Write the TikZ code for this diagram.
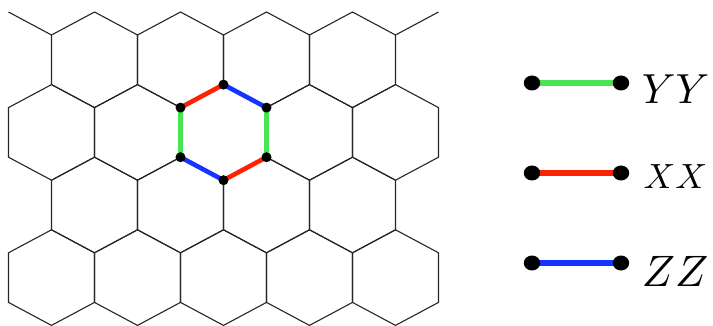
\documentclass[tikz,border=0pt]{standalone}
\usetikzlibrary{shapes.geometric}
\definecolor{kgreen}{RGB}{72,228,82}
\definecolor{kred}{RGB}{255,34,0}
\definecolor{kblue}{RGB}{22,52,255}
\tikzset{
  lat/.style={line width=1.1pt, draw=black!85, line join=miter},
  bond/.style={line width=4.6pt},
  lbond/.style={line width=6pt},
  site/.style={circle, inner sep=0pt, minimum size=10pt},
  lbl/.style={anchor=base west, inner sep=0pt}
}
\begin{document}
\begin{tikzpicture}[x=1pt,y=-1pt]
\useasboundingbox (0,0) rectangle (713,326);
% honeycomb lattice
\foreach \ty/\ks in {12/{2,4,6,8}, 84.6/{1,3,5,7,9}, 157.2/{2,4,6,8}, 229.8/{1,3,5,7,9}} {
  \foreach \k in \ks {
    \draw[lat] ({8.5+43*\k},\ty) -- ++(43,23) -- ++(0,49.6) -- ++(-43,23)
      -- ++(-43,-23) -- ++(0,-49.6) -- cycle;
  }
}
\coordinate (pl0) at (8.5,12);
\coordinate (pl1) at (51.5,35);
\coordinate (pr0) at (395.5,35);
\coordinate (pr1) at (438.5,12);
\draw[lat] (pl0) -- (pl1);
\draw[lat] (pr0) -- (pr1);
% highlighted plaquette
\node[site] (T)  at (223.5,84.6) {};
\node[site] (TR) at (266.5,107.6) {};
\node[site] (BR) at (266.5,157.2) {};
\node[site] (B)  at (223.5,180.2) {};
\node[site] (BL) at (180.5,157.2) {};
\node[site] (TL) at (180.5,107.6) {};
\draw[bond, kred]   (TL.center) -- (T.center);
\draw[bond, kblue]  (T.center) -- (TR.center);
\draw[bond, kgreen] (TR.center) -- (BR.center);
\draw[bond, kred]   (BR.center) -- (B.center);
\draw[bond, kblue]  (B.center) -- (BL.center);
\draw[bond, kgreen] (BL.center) -- (TL.center);
\foreach \n in {T,TR,BR,B,BL,TL} { \fill (\n.center) circle (5pt); }
% legend
\coordinate (ya) at (532,83);  \coordinate (yb) at (621,83);
\coordinate (xa) at (532,173); \coordinate (xb) at (621,173);
\coordinate (za) at (532,263); \coordinate (zb) at (621,263);
\draw[lbond, kgreen] (ya) -- (yb);
\draw[lbond, kred]   (xa) -- (xb);
\draw[lbond, kblue]  (za) -- (zb);
\foreach \n in {ya,yb,xa,xb,za,zb} { \fill (\n) ellipse (8.2pt and 7.5pt); }
\node[lbl, scale=4.2] (ly) at (641,104) {$YY$};
\node[lbl, scale=3.5] (lx) at (643,189) {$XX$};
\node[lbl, scale=4.4] (lz) at (641,287) {$ZZ$};
\end{tikzpicture}
\end{document}
